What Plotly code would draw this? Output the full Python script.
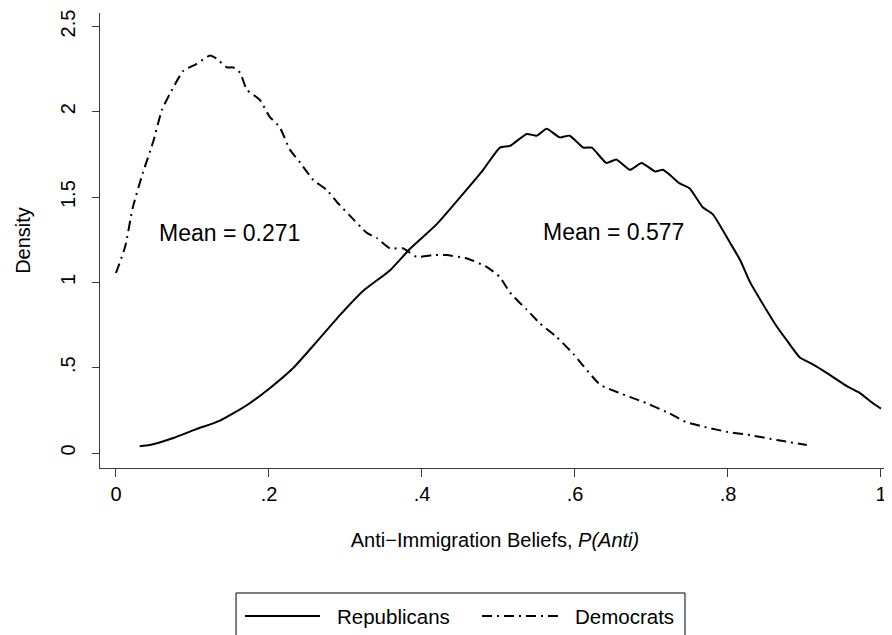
import plotly.graph_objects as go

# density estimates
rep_x = [0.031, 0.044, 0.075, 0.105, 0.136, 0.171, 0.201, 0.232, 0.262, 0.293,
         0.323, 0.358, 0.385, 0.419, 0.450, 0.480, 0.502, 0.515, 0.537, 0.550,
         0.563, 0.580, 0.593, 0.611, 0.622, 0.641, 0.654, 0.672, 0.687, 0.705,
         0.715, 0.737, 0.750, 0.767, 0.780, 0.803, 0.816, 0.829, 0.842, 0.864,
         0.877, 0.894, 0.911, 0.929, 0.956, 0.973, 0.990, 1.0]
rep_y = [0.04, 0.047, 0.088, 0.14, 0.19, 0.28, 0.38, 0.50, 0.65, 0.81,
         0.95, 1.07, 1.20, 1.34, 1.50, 1.66, 1.79, 1.80, 1.87, 1.86,
         1.90, 1.85, 1.86, 1.79, 1.79, 1.70, 1.72, 1.66, 1.70, 1.65,
         1.66, 1.58, 1.55, 1.44, 1.40, 1.23, 1.13, 1.00, 0.90, 0.74,
         0.66, 0.56, 0.52, 0.47, 0.39, 0.35, 0.29, 0.26]

dem_x = [0.0, 0.012, 0.022, 0.035, 0.049, 0.06, 0.071, 0.088, 0.105, 0.123,
         0.132, 0.145, 0.153, 0.162, 0.171, 0.188, 0.201, 0.214, 0.227, 0.241,
         0.258, 0.276, 0.289, 0.306, 0.328, 0.341, 0.358, 0.375, 0.393, 0.415,
         0.432, 0.459, 0.485, 0.502, 0.515, 0.537, 0.554, 0.576, 0.598, 0.611,
         0.633, 0.659, 0.689, 0.720, 0.746, 0.772, 0.798, 0.829, 0.864, 0.903]
dem_y = [1.055, 1.21, 1.44, 1.64, 1.83, 2.01, 2.11, 2.24, 2.28, 2.33,
         2.31, 2.26, 2.26, 2.23, 2.13, 2.07, 1.97, 1.91, 1.78, 1.70,
         1.60, 1.54, 1.47, 1.39, 1.29, 1.26, 1.20, 1.20, 1.15, 1.16,
         1.16, 1.14, 1.09, 1.03, 0.94, 0.84, 0.76, 0.68, 0.58, 0.51,
         0.40, 0.35, 0.30, 0.24, 0.18, 0.15, 0.125, 0.105, 0.076, 0.047]

series_names = ['Republicans', 'Democrats']
mean_labels = ['Mean = 0.271', 'Mean = 0.577']

x_ticks = [0, 0.2, 0.4, 0.6, 0.8, 1]
x_ticktext = ['0', '.2', '.4', '.6', '.8', '1']
y_ticks = [0, 0.5, 1, 1.5, 2, 2.5]
y_ticktext = ['0', '.5', '1', '1.5', '2', '2.5']

FONT = 'Liberation Sans, Arial, Helvetica, sans-serif'
DASHDOT = '10px,5px,2px,5px'
AXIS_COLOR = '#3a3a3a'

fig = go.Figure()
fig.add_scatter(x=rep_x, y=rep_y, name=series_names[0], mode='lines',
                line=dict(color='black', width=2, shape='spline', smoothing=0.5),
                showlegend=False)
fig.add_scatter(x=dem_x, y=dem_y, name=series_names[1], mode='lines',
                line=dict(color='black', width=2, dash=DASHDOT, shape='spline', smoothing=0.5),
                showlegend=False)

# mean labels
fig.add_annotation(x=0.149, y=1.29, text=mean_labels[0], showarrow=False,
                   font=dict(size=23, color='black'))
fig.add_annotation(x=0.651, y=1.295, text=mean_labels[1], showarrow=False,
                   font=dict(size=23, color='black'))

# legend box drawn by hand (Stata style, clipped by the bottom edge)
fig.add_shape(type='rect', xref='paper', yref='paper', x0=0.1722, x1=0.7405,
              y0=-0.2747, y1=-0.42, line=dict(color='black', width=1))
fig.add_shape(type='line', xref='paper', yref='paper', x0=0.1835, x1=0.2785,
              y0=-0.3253, y1=-0.3253, line=dict(color='black', width=2))
fig.add_shape(type='line', xref='paper', yref='paper', x0=0.4835, x1=0.5797,
              y0=-0.3253, y1=-0.3253, line=dict(color='black', width=2, dash=DASHDOT))
fig.add_annotation(xref='paper', yref='paper', x=0.2975, y=-0.3253, text=series_names[0],
                   xanchor='left', yanchor='middle', showarrow=False,
                   font=dict(size=20.5, color='black'))
fig.add_annotation(xref='paper', yref='paper', x=0.5987, y=-0.3253, text=series_names[1],
                   xanchor='left', yanchor='middle', showarrow=False,
                   font=dict(size=20.5, color='black'))

fig.update_xaxes(range=[-0.0209, 1.0118], tickvals=x_ticks, ticktext=x_ticktext,
                 showgrid=False, zeroline=False, showline=True, linecolor=AXIS_COLOR,
                 linewidth=1.3, ticks='outside', ticklen=8, tickcolor=AXIS_COLOR,
                 tickwidth=1.3, tickfont=dict(size=20, color='black'),
                 title=dict(text='Anti\u2212Immigration Beliefs, <i>P(Anti)</i>',
                            font=dict(size=20, color='black'), standoff=28))
fig.update_yaxes(range=[-0.0879, 2.579], tickvals=y_ticks, ticktext=y_ticktext,
                 showgrid=False, zeroline=False, showline=True, linecolor=AXIS_COLOR,
                 linewidth=1.3, ticks='outside', ticklen=7, tickcolor=AXIS_COLOR,
                 tickwidth=1.3, tickangle=-90, ticklabelstandoff=9,
                 tickfont=dict(size=20, color='black'),
                 title=dict(text='Density', font=dict(size=20, color='black'), standoff=20))

# the page body keeps its default 8px margin, so the figure is 8px smaller
fig.update_layout(width=884, height=627, autosize=False,
                  margin=dict(l=92, r=2, t=5, b=167, autoexpand=False),
                  plot_bgcolor='white', paper_bgcolor='white',
                  font=dict(family=FONT, color='black'))

fig.write_html('out.html')
